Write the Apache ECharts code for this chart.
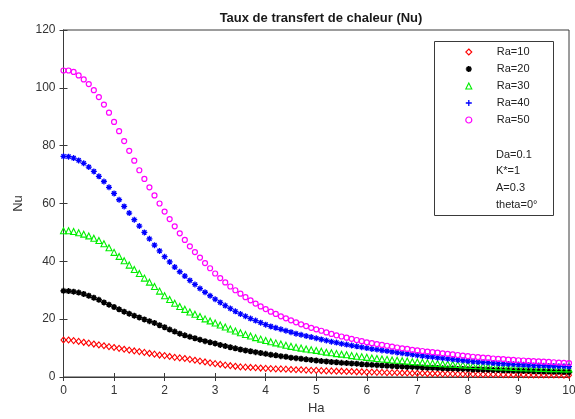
<!DOCTYPE html>
<html><head><meta charset="utf-8">
<script src="https://cdn.jsdelivr.net/npm/echarts@6/dist/echarts.min.js"></script>
<style>html,body{margin:0;padding:0;background:#fff}#c{width:575px;height:419px}</style>
</head><body><div id="c"></div>
<script>
const title = 'Taux de transfert de chaleur (Nu)';
const xName = 'Ha';
const yName = 'Nu';
const xTicks = [0,1,2,3,4,5,6,7,8,9,10];
const yTicks = [0,20,40,60,80,100,120];
const seriesNames = ['Ra=10','Ra=20','Ra=30','Ra=40','Ra=50'];
const paramLines = ['Da=0.1','K*=1','A=0.3','theta=0°'];

const ha = [0,0.1,0.2,0.3,0.4,0.5,0.6,0.7,0.8,0.9,
1,1.1,1.2,1.3,1.4,1.5,1.6,1.7,1.8,1.9,
2,2.1,2.2,2.3,2.4,2.5,2.6,2.7,2.8,2.9,
3,3.1,3.2,3.3,3.4,3.5,3.6,3.7,3.8,3.9,
4,4.1,4.2,4.3,4.4,4.5,4.6,4.7,4.8,4.9,
5,5.1,5.2,5.3,5.4,5.5,5.6,5.7,5.8,5.9,
6,6.1,6.2,6.3,6.4,6.5,6.6,6.7,6.8,6.9,
7,7.1,7.2,7.3,7.4,7.5,7.6,7.7,7.8,7.9,
8,8.1,8.2,8.3,8.4,8.5,8.6,8.7,8.8,8.9,
9,9.1,9.2,9.3,9.4,9.5,9.6,9.7,9.8,9.9,10];

const nuRa10 = [12.8,12.8,12.6,12.3,12.0,11.7,11.4,11.1,10.8,10.5,
10.2,9.9,9.6,9.3,9.0,8.8,8.5,8.2,7.9,7.6,
7.4,7.1,6.8,6.6,6.4,6.1,5.8,5.5,5.2,4.9,
4.6,4.4,4.1,3.9,3.7,3.5,3.4,3.3,3.2,3.1,
3.0,2.9,2.8,2.8,2.7,2.6,2.5,2.5,2.4,2.3,
2.3,2.2,2.1,2.1,2.0,2.0,1.9,1.9,1.8,1.8,
1.7,1.7,1.6,1.6,1.5,1.5,1.5,1.4,1.4,1.3,
1.3,1.3,1.2,1.2,1.2,1.1,1.1,1.1,1.0,1.0,
1.0,1.0,0.9,0.9,0.9,0.9,0.9,0.8,0.8,0.8,
0.8,0.8,0.7,0.7,0.7,0.7,0.7,0.7,0.7,0.6,0.6];

const nuRa20 = [29.8,29.7,29.5,29.2,28.7,28.1,27.4,26.7,25.8,25.0,
24.2,23.4,22.6,21.9,21.2,20.6,19.9,19.3,18.7,17.9,
17.2,16.4,15.7,15.0,14.4,13.9,13.4,12.9,12.4,12.0,
11.6,11.1,10.7,10.3,9.9,9.5,9.2,8.9,8.6,8.3,
8.0,7.7,7.5,7.2,7.0,6.7,6.5,6.3,6.1,5.9,
5.7,5.5,5.4,5.2,5.1,4.9,4.8,4.7,4.6,4.4,
4.3,4.2,4.1,4.0,3.9,3.8,3.7,3.6,3.5,3.5,
3.4,3.3,3.2,3.2,3.1,3.0,2.9,2.9,2.8,2.8,
2.7,2.6,2.6,2.5,2.5,2.4,2.4,2.3,2.3,2.2,
2.2,2.1,2.1,2.0,2.0,1.9,1.9,1.8,1.8,1.7,1.7];

const nuRa30 = [50.6,50.6,50.3,49.9,49.4,48.8,48.0,47.2,46.1,44.7,
43.1,41.7,40.2,38.7,37.2,35.8,34.2,32.8,31.3,29.7,
28.1,26.8,25.5,24.4,23.4,22.5,21.7,20.9,20.1,19.4,
18.7,18.0,17.3,16.6,15.9,15.3,14.7,14.2,13.6,13.1,
12.6,12.2,11.8,11.4,11.0,10.6,10.3,10.0,9.7,9.4,
9.2,8.9,8.6,8.4,8.1,7.9,7.7,7.4,7.2,7.0,
6.8,6.6,6.4,6.2,6.1,5.9,5.8,5.6,5.5,5.3,
5.2,5.1,4.9,4.8,4.7,4.6,4.5,4.4,4.3,4.2,
4.1,4.0,3.9,3.8,3.7,3.6,3.5,3.5,3.4,3.3,
3.2,3.2,3.1,3.1,3.0,3.0,2.9,2.9,2.9,2.8,2.8];

const nuRa40 = [76.3,76.2,75.7,74.9,73.9,72.6,71.1,69.4,67.6,65.6,
63.5,61.3,59.0,56.7,54.4,52.2,50.0,47.8,45.6,43.6,
41.6,39.8,38.0,36.4,34.9,33.4,32.0,30.6,29.3,28.1,
26.9,25.8,24.7,23.7,22.7,21.8,21.0,20.2,19.5,18.8,
18.1,17.5,17.0,16.5,16.0,15.5,15.0,14.6,14.2,13.8,
13.4,13.0,12.6,12.2,11.9,11.5,11.2,10.9,10.6,10.3,
10.0,9.7,9.5,9.2,9.0,8.7,8.5,8.2,8.0,7.8,
7.5,7.3,7.1,6.9,6.7,6.5,6.3,6.1,5.9,5.7,
5.5,5.4,5.2,5.1,5.0,4.8,4.7,4.6,4.5,4.4,
4.3,4.2,4.1,4.0,4.0,3.9,3.8,3.8,3.7,3.7,3.6];

const nuRa50 = [106.0,106.0,105.5,104.3,102.9,101.3,99.2,96.8,94.2,91.4,
88.2,85.0,81.6,78.2,74.8,71.5,68.5,65.6,62.8,60.0,
57.2,54.6,52.1,49.7,47.4,45.2,43.2,41.3,39.4,37.6,
35.8,34.2,32.7,31.3,30.0,28.8,27.6,26.5,25.4,24.4,
23.5,22.6,21.8,21.0,20.3,19.6,18.9,18.2,17.6,17.0,
16.5,16.0,15.4,14.9,14.4,14.0,13.6,13.2,12.8,12.4,
12.0,11.7,11.4,11.1,10.8,10.5,10.2,9.9,9.7,9.4,
9.2,9.0,8.8,8.6,8.4,8.2,8.0,7.8,7.6,7.4,
7.2,7.0,6.9,6.7,6.6,6.4,6.3,6.2,6.0,5.9,
5.8,5.7,5.6,5.5,5.4,5.3,5.2,5.1,5.0,4.9,4.8];

const seriesValues = [nuRa10, nuRa20, nuRa30, nuRa40, nuRa50];

// styling
const colors = ['#ff0000','#000000','#00ee00','#0000ff','#ff00ff'];
const star = 'path://M0,-5L0,5M-5,0L5,0M-3.5,-3.5L3.5,3.5M-3.5,3.5L3.5,-3.5';
const plus = 'path://M0,-5L0,5M-5,0L5,0';
const symbols = ['diamond', star, 'triangle', star, 'circle'];
const legendIcons = ['diamond', star, 'triangle', plus, 'circle'];
const sizes = [[5,6],6,6,6,5];
const fillColors = ['transparent','#000','transparent','#0000ff','transparent'];
const borderW = [1.1,1.6,1.1,1.3,1.2];

const font = 'Liberation Sans, Arial, sans-serif';
const chart = echarts.init(document.getElementById('c'), null, {renderer:'canvas'});

const series = seriesNames.map((n,i)=>({
  name:n, type:'scatter', xAxisIndex:0, yAxisIndex:0,
  symbol:symbols[i], symbolSize:sizes[i],
  itemStyle:{color:fillColors[i], borderColor:colors[i], borderWidth:borderW[i], opacity:1},
  emphasis:{disabled:true},
  data: ha.map((h,k)=>[h, seriesValues[i][k]])
}));

const axisLine = {lineStyle:{color:'#3a3a3a', width:1}};
chart.setOption({
  animation:false,
  backgroundColor:'#fff',
  title:{text:title, left:316, textAlign:'center', top:7,
    textStyle:{fontFamily:font, fontSize:13, fontWeight:'bold', color:'#1a1a1a'}},
  grid:{left:63.5, right:6, top:30, bottom:42, show:true, borderColor:'#3a3a3a', borderWidth:1,
    containLabel:false, outerBoundsMode:'none'},
  xAxis:[{type:'value', min:0, max:10, interval:1, position:'bottom',
      name:xName, nameLocation:'middle', nameGap:25,
      nameTextStyle:{fontFamily:font, fontSize:13, color:'#333'},
      axisLine:axisLine, axisTick:{inside:true, length:4, lineStyle:{color:'#3a3a3a'}},
      axisLabel:{fontFamily:font, fontSize:12, color:'#333', margin:8},
      splitLine:{show:false}},
    {type:'value', min:0, max:10, interval:1, position:'top',
      axisLine:axisLine, axisTick:{inside:true, length:4, lineStyle:{color:'#3a3a3a'}},
      axisLabel:{show:false}, splitLine:{show:false}}],
  yAxis:[{type:'value', min:0, max:120, interval:20, position:'left',
      name:yName, nameLocation:'middle', nameGap:38, nameRotate:90,
      nameTextStyle:{fontFamily:font, fontSize:13, color:'#333'},
      axisLine:axisLine, axisTick:{inside:true, length:4, lineStyle:{color:'#3a3a3a'}},
      axisLabel:{fontFamily:font, fontSize:12, color:'#333', margin:8},
      splitLine:{show:false}},
    {type:'value', min:0, max:120, interval:20, position:'right',
      axisLine:axisLine, axisTick:{inside:true, length:4, lineStyle:{color:'#3a3a3a'}},
      axisLabel:{show:false}, splitLine:{show:false}}],
  legend:{orient:'vertical', left:465, top:46, padding:0, itemGap:5,
    itemWidth:6, itemHeight:6, selectedMode:false, z:6,
    data: seriesNames.map((n,i)=>({name:n, icon:legendIcons[i],
      itemStyle:{color:fillColors[i], borderColor:colors[i], borderWidth:borderW[i]}})),
    textStyle:{fontFamily:font, fontSize:11, color:'#222', lineHeight:12, padding:[0,0,0,20]}},
  graphic:[
    {type:'rect', z:5, shape:{x:434.5, y:41.5, width:119, height:174},
      style:{fill:'#fff', stroke:'#3a3a3a', lineWidth:1}},
    ...paramLines.map((t,i)=>({type:'text', z:6, left:496, top:149+i*16.7,
      style:{text:t, fontFamily:font, fontSize:11, fill:'#222'}}))
  ],
  series:series
});
</script></body></html>
